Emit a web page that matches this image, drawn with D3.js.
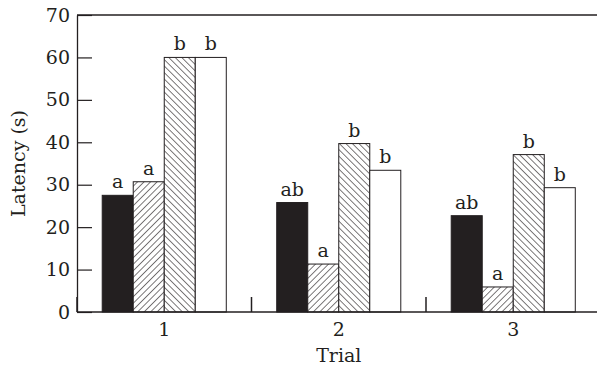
<!DOCTYPE html>
<html>
<head>
<meta charset="utf-8">
<script src="https://cdn.jsdelivr.net/npm/d3@7"></script>
<style>
  body { margin: 0; background: #fff; }
  svg text { font-family: "DejaVu Serif", serif; fill: #231f20; }
</style>
</head>
<body>
<div id="chart"></div>
<script>
// dados
const trials = ['1', '2', '3'];
const groups = ['solid', 'hatchUp', 'hatchDown', 'open'];
const solidValues = [27.5, 25.8, 22.7];
const hatchUpValues = [30.7, 11.3, 5.9];
const hatchDownValues = [60, 39.7, 37.1];
const openValues = [60, 33.4, 29.3];
const solidLetters = ['a', 'ab', 'ab'];
const hatchUpLetters = ['a', 'a', 'a'];
const hatchDownLetters = ['b', 'b', 'b'];
const openLetters = ['b', 'b', 'b'];
const yTicks = [0, 10, 20, 30, 40, 50, 60, 70];

const W = 597, H = 372;
const plotLeft = 77, plotTop = 15, plotBottom = 312;
const ink = '#231f20';
const fontSize = '19px';

const valuesBy = { solid: solidValues, hatchUp: hatchUpValues, hatchDown: hatchDownValues, open: openValues };
const lettersBy = { solid: solidLetters, hatchUp: hatchUpLetters, hatchDown: hatchDownLetters, open: openLetters };

const rows = [];
trials.forEach((t, i) => {
  groups.forEach(g => rows.push({ trial: t, group: g, value: valuesBy[g][i], letter: lettersBy[g][i] }));
});

const svg = d3.select('#chart').append('svg')
  .attr('width', W)
  .attr('height', H);

// padroes de hachura
const defs = svg.append('defs');
function hatch(id, angle) {
  const p = defs.append('pattern')
    .attr('id', id)
    .attr('patternUnits', 'userSpaceOnUse')
    .attr('width', 4.6)
    .attr('height', 4.6)
    .attr('patternTransform', `rotate(${angle})`);
  p.append('rect').attr('width', 4.6).attr('height', 4.6).attr('fill', '#fff');
  p.append('line')
    .attr('x1', 0).attr('y1', 0).attr('x2', 0).attr('y2', 4.6)
    .attr('stroke', ink)
    .attr('stroke-width', 1.2);
}
hatch('hatch-up', 45);
hatch('hatch-down', -45);

const fillBy = { solid: ink, hatchUp: 'url(#hatch-up)', hatchDown: 'url(#hatch-down)', open: '#fff' };

// escalas
const x = d3.scaleBand()
  .domain(trials)
  .range([plotLeft, 600.5])
  .paddingInner(0.289)
  .paddingOuter(0.1445);

const xInner = d3.scaleBand()
  .domain(groups)
  .range([0, x.bandwidth()]);

const y = d3.scaleLinear()
  .domain([0, 70])
  .range([plotBottom, plotTop]);

// barras
svg.append('g')
  .selectAll('rect')
  .data(rows)
  .enter()
  .append('rect')
  .attr('x', d => x(d.trial) + xInner(d.group))
  .attr('y', d => y(d.value))
  .attr('width', xInner.bandwidth())
  .attr('height', d => y(0) - y(d.value))
  .attr('fill', d => fillBy[d.group])
  .attr('stroke', ink)
  .attr('stroke-width', 1);

// letras de significancia
svg.append('g')
  .selectAll('text')
  .data(rows)
  .enter()
  .append('text')
  .attr('x', d => x(d.trial) + xInner(d.group) + xInner.bandwidth() / 2)
  .attr('y', d => y(d.value) - 7)
  .attr('text-anchor', 'middle')
  .style('font-size', fontSize)
  .text(d => d.letter);

// eixo y (ticks para dentro)
const yAxisG = svg.append('g')
  .attr('transform', `translate(${plotLeft},0)`)
  .call(d3.axisLeft(y)
    .tickValues(yTicks)
    .tickSize(-15)
    .tickSizeOuter(0)
    .tickPadding(7));

yAxisG.selectAll('.tick line').attr('stroke', ink).attr('stroke-width', 1.2);
yAxisG.select('.domain').attr('stroke', ink).attr('stroke-width', 1.3);
yAxisG.selectAll('.tick text')
  .style('font-size', fontSize)
  .style('font-family', '"DejaVu Serif", serif')
  .attr('fill', ink);

// linha superior e eixo x
svg.append('line')
  .attr('x1', plotLeft).attr('x2', W)
  .attr('y1', y(70)).attr('y2', y(70))
  .attr('stroke', ink).attr('stroke-width', 1.3);

svg.append('line')
  .attr('x1', plotLeft).attr('x2', W)
  .attr('y1', y(0)).attr('y2', y(0))
  .attr('stroke', ink).attr('stroke-width', 1.3);

// marcas de separacao entre categorias
svg.append('g')
  .selectAll('line')
  .data(trials)
  .enter()
  .append('line')
  .attr('x1', d => x(d) + x.bandwidth() / 2 - x.step() / 2)
  .attr('x2', d => x(d) + x.bandwidth() / 2 - x.step() / 2)
  .attr('y1', y(0))
  .attr('y2', y(0) - 15)
  .attr('stroke', ink)
  .attr('stroke-width', 1.5);

// rotulos do eixo x
svg.append('g')
  .selectAll('text')
  .data(trials)
  .enter()
  .append('text')
  .attr('x', d => x(d) + x.bandwidth() / 2)
  .attr('y', 336)
  .attr('text-anchor', 'middle')
  .style('font-size', fontSize)
  .text(d => d);

svg.append('text')
  .attr('x', x('2') + x.bandwidth() / 2)
  .attr('y', 362)
  .attr('text-anchor', 'middle')
  .style('font-size', fontSize)
  .text('Trial');

svg.append('text')
  .attr('transform', `translate(25,${(plotTop + plotBottom) / 2}) rotate(-90)`)
  .attr('text-anchor', 'middle')
  .style('font-size', fontSize)
  .text('Latency (s)');
</script>
</body>
</html>
